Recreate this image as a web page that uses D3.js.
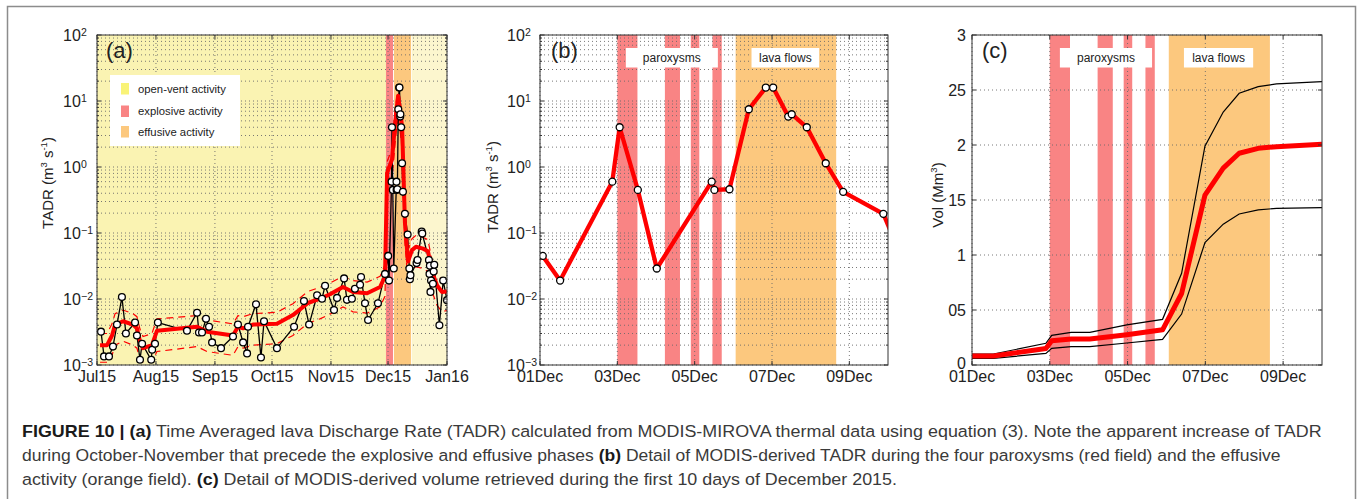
<!DOCTYPE html>
<html>
<head>
<meta charset="utf-8">
<script src="https://cdn.jsdelivr.net/npm/d3@7/dist/d3.min.js"></script>
<style>
  body { margin: 0; background: #fff; }
  svg { display: block; }
</style>
</head>
<body>
<div id="figure"></div>
<script>
// ---------- values ----------

// (a) days since 1 Jul 2015, TADR in m3/s
const aEarlyDays = [2.1, 3.7, 6.3, 8.4, 10.5, 13.1, 15.2, 20, 21, 22.6, 23.7, 28.5, 29, 30.5, 32,
    47.3, 52.6, 53.6, 55.2, 57.3, 58.9, 60.5, 65.2, 71.5, 74.1, 76.8, 78.9, 79.4, 83.6, 86.2, 87.8,
    94.6, 103.6, 108.8, 111.5, 115.7, 118.3, 119.9, 124.6, 126.2, 129.9, 131.4, 134, 135.6, 138.3,
    138.8, 140.9, 142.5, 147.7, 151.4];
const aEarlyTadr = [0.0032, 0.00135, 0.00135, 0.0019, 0.0041, 0.0107, 0.003, 0.0044, 0.0028, 0.0012,
    0.0021, 0.0012, 0.0017, 0.0021, 0.0044, 0.0033, 0.0062, 0.0031, 0.0031, 0.005, 0.0038, 0.0022,
    0.0018, 0.0027, 0.0041, 0.0022, 0.0015, 0.0038, 0.0083, 0.0013, 0.0046, 0.0018, 0.0038, 0.0093,
    0.0041, 0.0114, 0.0101, 0.0159, 0.0068, 0.0104, 0.0205, 0.0097, 0.0101, 0.0143, 0.0164, 0.0215,
    0.0086, 0.0048, 0.0086, 0.024];
const aLateDays = [163.3, 164.2, 164.5, 164.8, 168, 168.5, 170.7, 171, 174.5, 174.8, 175, 175.3,
    175.6, 176.6, 177, 177.3, 180, 182, 184];
const aLateTadr = [0.095, 0.029, 0.02, 0.023, 0.035, 0.039, 0.105, 0.098, 0.039, 0.024, 0.032, 0.0128,
    0.019, 0.017, 0.026, 0.033, 0.004, 0.019, 0.0096];

// (a) running mean and its bounds
const aMeanDays = [1.6, 5.3, 7.9, 9.5, 13.7, 18.9, 21, 22.6, 24.2, 28.9, 31.5, 52.6, 57.8, 71.5, 74.1,
    76.8, 82, 94.6, 103, 110.9, 117.2, 122.5, 129.3, 134.6, 142, 148.8, 151.4, 152.5, 155.1, 156.7,
    158.3, 160.4, 161.9, 163.5, 165.6, 167.7, 171.4, 174, 176.1, 178.8, 181.4, 184];
const aMeanTadr = [0.002, 0.002, 0.0028, 0.0041, 0.0046, 0.0041, 0.0036, 0.0023, 0.0018, 0.002, 0.0033,
    0.0038, 0.0032, 0.0028, 0.0038, 0.0036, 0.0041, 0.0042, 0.0057, 0.0087, 0.0101, 0.0118, 0.0152,
    0.0128, 0.0122, 0.0152, 0.022, 0.81, 1.3, 4.6, 12, 4.1, 0.14, 0.037, 0.055, 0.062, 0.058, 0.053,
    0.026, 0.016, 0.0128, 0.013];
const aUpperTadr = [0.003, 0.003, 0.0042, 0.006, 0.0068, 0.006, 0.0054, 0.0035, 0.0027, 0.003, 0.005,
    0.0056, 0.0048, 0.0042, 0.0056, 0.0054, 0.006, 0.0063, 0.0085, 0.013, 0.015, 0.0175, 0.022, 0.019,
    0.018, 0.022, 0.033, 1.2, 1.9, 6.8, 17, 6, 0.21, 0.055, 0.082, 0.092, 0.086, 0.079, 0.038, 0.024,
    0.019, 0.02];
const aLowerTadr = [0.0011, 0.0011, 0.0014, 0.002, 0.0023, 0.002, 0.0018, 0.0012, 0.0011, 0.0011,
    0.0016, 0.0019, 0.0016, 0.0014, 0.0019, 0.0018, 0.002, 0.0021, 0.0028, 0.0043, 0.005, 0.0059,
    0.0076, 0.0064, 0.0061, 0.0076, 0.011, 0.4, 0.65, 2.3, 6, 2, 0.07, 0.018, 0.027, 0.031, 0.029,
    0.026, 0.013, 0.008, 0.0064, 0.0067];

// (a) activity phases, days since 1 Jul 2015
const aPhaseKind = ["open", "explosive", "effusive", "late"];
const aPhaseStart = [0, 151.9, 156.1, 165.5];
const aPhaseEnd = [151.9, 155.6, 165.1, 184];
const legendLabels = ["open-vent activity", "explosive activity", "effusive activity"];
const aTickDates = ["2015-07-01", "2015-08-01", "2015-09-01", "2015-10-01", "2015-11-01", "2015-12-01", "2016-01-01"];
const aTickLabels = ["Jul15", "Aug15", "Sep15", "Oct15", "Nov15", "Dec15", "Jan16"];

// (b) days since 1 Dec 2015
const bDays = [-0.3, 0.07, 0.52, 1.87, 2.06, 2.53, 3.02, 4.44, 4.51, 4.9, 5.4, 5.84, 6.03, 6.42, 6.51,
    6.9, 7.39, 7.84, 8.88, 9.3];
const bTadr = [0.03, 0.045, 0.019, 0.6, 4.0, 0.45, 0.029, 0.6, 0.45, 0.46, 7.5, 16, 16, 5.8, 6.3, 4.0,
    1.14, 0.42, 0.195, 0.05];

// (c) cumulative volume, Mm3
const cDays = [0, 0.55, 1.9, 2.05, 2.55, 3.03, 3.98, 4.9, 5.39, 5.99, 6.46, 6.87, 7.36, 7.83, 9.0];
const cVol = [0.082, 0.082, 0.15, 0.22, 0.236, 0.236, 0.275, 0.32, 0.65, 1.545, 1.79, 1.925, 1.97, 1.985, 2.006];
const cVolUp = [0.1, 0.1, 0.197, 0.27, 0.297, 0.297, 0.364, 0.415, 0.834, 1.99, 2.3, 2.47, 2.53, 2.555, 2.576];
const cVolLow = [0.06, 0.06, 0.106, 0.152, 0.167, 0.167, 0.2, 0.233, 0.463, 1.112, 1.28, 1.373, 1.41, 1.424, 1.43];
const cTickValues = [0, 0.5, 1, 1.5, 2, 2.5, 3];
const cTickLabels = ["0", "05", "1", "15", "2", "25", "3"];

// (b)/(c) paroxysms and lava flow field, days since 1 Dec 2015
const paroxStart = [2.0, 3.23, 3.9, 4.46];
const paroxEnd = [2.52, 3.62, 4.12, 4.7];
const lavaStart = 5.06, lavaEnd = 7.66;
const decTickDays = [0, 2, 4, 6, 8];
const decTickLabels = ["01Dec", "03Dec", "05Dec", "07Dec", "09Dec"];

const captionLines = [
    [["FIGURE 10 | (a)", true], [" Time Averaged lava Discharge Rate (TADR) calculated from MODIS-MIROVA thermal data using equation (3). Note the apparent increase of TADR", false]],
    [["during October-November that precede the explosive and effusive phases ", false], ["(b)", true], [" Detail of MODIS-derived TADR during the four paroxysms (red field) and the effusive", false]],
    [["activity (orange field). ", false], ["(c)", true], [" Detail of MODIS-derived volume retrieved during the first 10 days of December 2015.", false]]
];

// ---------- styles and layout ----------
const colors = {
    open: "#faf3b2", late: "#fcf6ce", explosive: "#f98484", effusive: "#fcc87e",
    swatchOpen: "#f9f377", red: "#ff0000", grid: "#6a6a6a", box: "#333"
};
const plotTop = 35, plotBottom = 365;
const pa = { x0: 97, x1: 447 }, pb = { x0: 540, x1: 888 }, pc = { x0: 972, x1: 1322 };

const dayMs = 864e5;
const julStart = new Date(2015, 6, 1), decStart = new Date(2015, 11, 1);
const toA = d => new Date(julStart.getTime() + d * dayMs);
const toDec = d => new Date(decStart.getTime() + d * dayMs);
const parseDay = d3.timeParse("%Y-%m-%d");

const svg = d3.select("#figure").append("svg")
    .attr("width", 1357)
    .attr("height", 501)
    .style("font-family", "'Liberation Sans', Arial, Helvetica, sans-serif");

const defs = svg.append("defs");
function clipFor(id, p) {
    defs.append("clipPath").attr("id", id).append("rect")
        .attr("x", p.x0).attr("y", plotTop).attr("width", p.x1 - p.x0).attr("height", plotBottom - plotTop);
    return `url(#${id})`;
}

// page frame
svg.append("path")
    .attr("d", "M7.5,499 V6.5 H1355.5 V499")
    .attr("fill", "none").attr("stroke", "#8c8c8c").attr("stroke-width", 1.5);

function dotted(g, x1, y1, x2, y2) {
    g.append("line")
        .attr("x1", x1).attr("y1", y1).attr("x2", x2).attr("y2", y2)
        .attr("stroke", colors.grid).attr("stroke-width", 0.9)
        .attr("stroke-dasharray", "1,3");
}

// box with inward ticks on all four sides
function axesBox(g, p, xPos, yMajor, yMinor) {
    g.append("rect")
        .attr("x", p.x0).attr("y", plotTop).attr("width", p.x1 - p.x0).attr("height", plotBottom - plotTop)
        .attr("fill", "none").attr("stroke", colors.box).attr("stroke-width", 1);
    const tick = (x1, y1, x2, y2) => g.append("line")
        .attr("x1", x1).attr("y1", y1).attr("x2", x2).attr("y2", y2)
        .attr("stroke", colors.box).attr("stroke-width", 1);
    xPos.forEach(x => { tick(x, plotBottom, x, plotBottom - 4); tick(x, plotTop, x, plotTop + 4); });
    yMajor.forEach(y => { tick(p.x0, y, p.x0 + 4, y); tick(p.x1, y, p.x1 - 4, y); });
    yMinor.forEach(y => { tick(p.x0, y, p.x0 + 2, y); tick(p.x1, y, p.x1 - 2, y); });
}

function logLabel(x, y, e) {
    svg.append("text").attr("x", x).attr("y", y + 5.5)
        .attr("font-size", 16).attr("fill", "#222").text("10");
    svg.append("text").attr("x", x + 18).attr("y", y + 0.5)
        .attr("font-size", 10.5).attr("fill", "#222")
        .text(e < 0 ? "\u2212" + (-e) : String(e));
}

function xLabels(xs, dates, labels) {
    dates.forEach((d, i) => {
        svg.append("text")
            .attr("x", xs(d)).attr("y", plotBottom + 17)
            .attr("text-anchor", "middle").attr("font-size", 16).attr("fill", "#222")
            .text(labels[i]);
    });
}

function yTitle(x, yc, parts) {
    const t = svg.append("text")
        .attr("transform", `translate(${x},${yc}) rotate(-90)`)
        .attr("text-anchor", "middle").attr("font-size", 15).attr("fill", "#222");
    parts.forEach(([s, sup]) => {
        t.append("tspan")
            .attr("font-size", sup === 1 ? 9.5 : 15)
            .attr("dy", sup === 1 ? -6 : sup === -1 ? 6 : 0)
            .text(s);
    });
}

function panelLetter(x, s) {
    svg.append("text").attr("x", x).attr("y", 58)
        .attr("font-size", 22).attr("fill", "#222").text(s);
}

function labelBox(xs, d0, d1, s) {
    const x0 = xs(toDec(d0)), x1 = xs(toDec(d1));
    svg.append("rect").attr("x", x0).attr("y", 48).attr("width", x1 - x0).attr("height", 19.5)
        .attr("fill", "#fff");
    svg.append("text").attr("x", (x0 + x1) / 2).attr("y", 61.5)
        .attr("text-anchor", "middle").attr("font-size", 12).attr("fill", "#222").text(s);
}

// log-axis positions shared by (a) and (b)
const yLog = d3.scaleLog().domain([1e-3, 1e2]).range([plotBottom, plotTop]);
const logMajor = d3.range(-3, 3).map(e => 10 ** e);
const logMinor = d3.range(-3, 2).flatMap(e => d3.range(2, 10).map(m => m * 10 ** e));

// =============== panel (a) ===============
const xa = d3.scaleTime().domain([julStart, new Date(2016, 0, 1)]).range([pa.x0, pa.x1]);
const ga = svg.append("g");
const aTicks = aTickDates.map(parseDay);

ga.append("rect").attr("x", pa.x0).attr("y", plotTop).attr("width", pa.x1 - pa.x0)
    .attr("height", plotBottom - plotTop).attr("fill", "#fff");
aPhaseKind.forEach((k, i) => {
    ga.append("rect")
        .attr("x", xa(toA(aPhaseStart[i])))
        .attr("width", xa(toA(aPhaseEnd[i])) - xa(toA(aPhaseStart[i])))
        .attr("y", plotTop).attr("height", plotBottom - plotTop)
        .attr("fill", colors[k]);
});

logMajor.concat(logMinor).forEach(v => dotted(ga, pa.x0, yLog(v), pa.x1, yLog(v)));
aTicks.forEach(d => dotted(ga, xa(d), plotTop, xa(d), plotBottom));

const aSeries = aEarlyDays.map((d, i) => ({ date: toA(d), v: aEarlyTadr[i] }))
    .concat(bDays.map((d, i) => ({ day: d, v: bTadr[i] }))
        .filter(o => o.day >= 0 && o.day <= 9)
        .map(o => ({ date: toA(153 + o.day), v: o.v })))
    .concat(aLateDays.map((d, i) => ({ date: toA(d), v: aLateTadr[i] })));
const aMean = aMeanDays.map((d, i) => ({ date: toA(d), v: aMeanTadr[i] }));
const aUp = aMeanDays.map((d, i) => ({ date: toA(d), v: aUpperTadr[i] }));
const aLow = aMeanDays.map((d, i) => ({ date: toA(d), v: aLowerTadr[i] }));

const lineA = d3.line().x(d => xa(d.date)).y(d => yLog(d.v));
const da = ga.append("g").attr("clip-path", clipFor("clipA", pa));

[aUp, aLow].forEach(s => {
    da.append("path").datum(s).attr("d", lineA)
        .attr("fill", "none").attr("stroke", colors.red).attr("stroke-width", 1.2)
        .attr("stroke-dasharray", "7,5");
});
da.append("path").datum(aSeries).attr("d", lineA)
    .attr("fill", "none").attr("stroke", "#000").attr("stroke-width", 1.3);
da.append("path").datum(aMean).attr("d", lineA)
    .attr("fill", "none").attr("stroke", colors.red).attr("stroke-width", 4)
    .attr("stroke-linejoin", "round");
da.selectAll("circle").data(aSeries).join("circle")
    .attr("cx", d => xa(d.date)).attr("cy", d => yLog(d.v)).attr("r", 3.4)
    .attr("fill", "#fff").attr("stroke", "#000").attr("stroke-width", 1.3);

axesBox(ga, pa, aTicks.map(xa), logMajor.map(yLog), logMinor.map(yLog));

// legend
ga.append("rect").attr("x", 110).attr("y", 75).attr("width", 130).attr("height", 71).attr("fill", "#fff");
const swatch = [colors.swatchOpen, colors.explosive, colors.effusive];
legendLabels.forEach((s, i) => {
    const yy = [83, 105.5, 126][i];
    ga.append("rect").attr("x", 121).attr("y", yy).attr("width", 8).attr("height", 11.5).attr("fill", swatch[i]);
    ga.append("text").attr("x", 138).attr("y", yy + 9.5)
        .attr("font-size", 11.3).attr("fill", "#222").text(s);
});

panelLetter(106, "(a)");
logMajor.forEach(v => logLabel(pa.x0 - 34, yLog(v), Math.round(Math.log10(v))));
xLabels(xa, aTicks, aTickLabels);
yTitle(53, 183, [["TADR (m", 0], ["3", 1], [" s", -1], ["-1", 1], [")", -1]]);

// =============== panel (b) ===============
const xb = d3.scaleTime().domain([decStart, toDec(9)]).range([pb.x0, pb.x1]);
const gb = svg.append("g");
const decTicks = decTickDays.map(toDec);

gb.append("rect").attr("x", pb.x0).attr("y", plotTop).attr("width", pb.x1 - pb.x0)
    .attr("height", plotBottom - plotTop).attr("fill", "#fff");
function bands(g, xs) {
    paroxStart.forEach((s, i) => {
        g.append("rect").attr("x", xs(toDec(s))).attr("width", xs(toDec(paroxEnd[i])) - xs(toDec(s)))
            .attr("y", plotTop).attr("height", plotBottom - plotTop).attr("fill", colors.explosive);
    });
    g.append("rect").attr("x", xs(toDec(lavaStart))).attr("width", xs(toDec(lavaEnd)) - xs(toDec(lavaStart)))
        .attr("y", plotTop).attr("height", plotBottom - plotTop).attr("fill", colors.effusive);
}
bands(gb, xb);
logMajor.concat(logMinor).forEach(v => dotted(gb, pb.x0, yLog(v), pb.x1, yLog(v)));
decTicks.forEach(d => dotted(gb, xb(d), plotTop, xb(d), plotBottom));

const bSeries = bDays.map((d, i) => ({ day: d, date: toDec(d), v: bTadr[i] }));
const lineB = d3.line().x(d => xb(d.date)).y(d => yLog(d.v));
const db = gb.append("g").attr("clip-path", clipFor("clipB", pb));
db.append("path").datum(bSeries).attr("d", lineB)
    .attr("fill", "none").attr("stroke", colors.red).attr("stroke-width", 4.3)
    .attr("stroke-linejoin", "round");
db.selectAll("circle").data(bSeries.filter(d => d.day >= 0 && d.day <= 9)).join("circle")
    .attr("cx", d => xb(d.date)).attr("cy", d => yLog(d.v)).attr("r", 3.5)
    .attr("fill", "#fff").attr("stroke", "#000").attr("stroke-width", 1.3);

axesBox(gb, pb, decTicks.map(xb), logMajor.map(yLog), logMinor.map(yLog));
labelBox(xb, 2.22, 4.6, "paroxysms");
labelBox(xb, 5.47, 7.22, "lava flows");
panelLetter(551, "(b)");
logMajor.forEach(v => logLabel(pb.x0 - 33, yLog(v), Math.round(Math.log10(v))));
xLabels(xb, decTicks, decTickLabels);
yTitle(498, 187, [["TADR (m", 0], ["3", 1], [" s", -1], ["-1", 1], [")", -1]]);

// =============== panel (c) ===============
const xc = d3.scaleTime().domain([decStart, toDec(9)]).range([pc.x0, pc.x1]);
const yc = d3.scaleLinear().domain([0, 3]).range([plotBottom, plotTop]);
const gc = svg.append("g");

gc.append("rect").attr("x", pc.x0).attr("y", plotTop).attr("width", pc.x1 - pc.x0)
    .attr("height", plotBottom - plotTop).attr("fill", "#fff");
bands(gc, xc);
cTickValues.forEach(v => dotted(gc, pc.x0, yc(v), pc.x1, yc(v)));
decTicks.forEach(d => dotted(gc, xc(d), plotTop, xc(d), plotBottom));

const lineC = d3.line().x(d => xc(d.date)).y(d => yc(d.v));
const dc = gc.append("g").attr("clip-path", clipFor("clipC", pc));
[cVolUp, cVolLow].forEach(arr => {
    dc.append("path").datum(cDays.map((d, i) => ({ date: toDec(d), v: arr[i] }))).attr("d", lineC)
        .attr("fill", "none").attr("stroke", "#000").attr("stroke-width", 1.2);
});
dc.append("path").datum(cDays.map((d, i) => ({ date: toDec(d), v: cVol[i] }))).attr("d", lineC)
    .attr("fill", "none").attr("stroke", colors.red).attr("stroke-width", 5)
    .attr("stroke-linejoin", "round");

axesBox(gc, pc, decTicks.map(xc), cTickValues.map(yc), []);
labelBox(xc, 2.26, 4.63, "paroxysms");
labelBox(xc, 5.45, 7.23, "lava flows");
panelLetter(982, "(c)");
cTickValues.forEach((v, i) => {
    svg.append("text").attr("x", pc.x0 - 6).attr("y", yc(v) + (v === 0 ? 4 : 5.5))
        .attr("text-anchor", "end").attr("font-size", 16).attr("fill", "#222")
        .text(cTickLabels[i]);
});
xLabels(xc, decTicks, decTickLabels);
yTitle(943, 195, [["Vol (Mm", 0], ["3", 1], [")", -1]]);

// =============== caption ===============
const capBase = [437, 461, 485];
const capEnd = [1322, 1282, 898];
captionLines.forEach((segs, i) => {
    const t = svg.append("text")
        .attr("x", 0).attr("y", 0)
        .attr("font-size", 16.5).attr("fill", "#3a3a3a")
        .style("white-space", "pre");
    segs.forEach(([s, bold]) => {
        t.append("tspan").attr("font-weight", bold ? "bold" : "normal")
            .attr("fill", bold ? "#1a1a1a" : "#3a3a3a").text(s);
    });
    const w = t.node().getComputedTextLength();
    const sx = (capEnd[i] - 22) / w;
    t.attr("transform", `translate(22,${capBase[i]}) scale(${sx},1)`);
});
</script>
</body>
</html>
